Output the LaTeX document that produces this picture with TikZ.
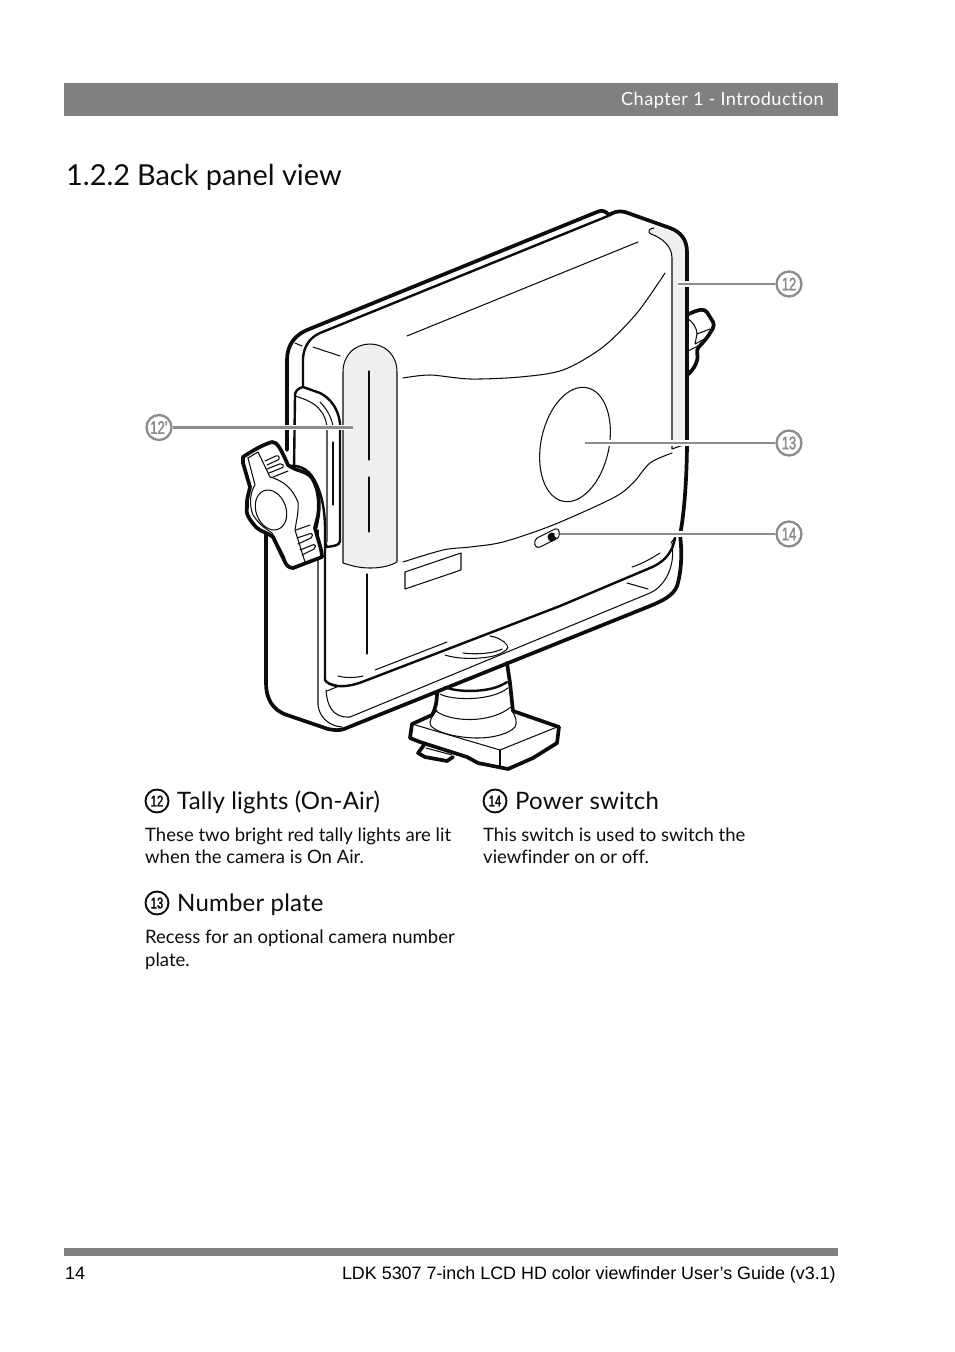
\documentclass[tikz,border=0pt]{standalone}
\usepackage{fontspec}
\setmainfont{Lato}[Ligatures=NoCommon]
\newfontfamily\spacedfont{Lato}[Ligatures=NoCommon,LetterSpace=0.8]
\newfontfamily\headfont{Lato}[Ligatures=NoCommon,LetterSpace=2.4]
\newfontfamily\footfont{Liberation Sans}
\newfontfamily\numfont{Liberation Sans}[FakeStretch=0.72,FakeBold=2]
\definecolor{bargray}{HTML}{808080}
\definecolor{tallyfill}{HTML}{EFEFEF}
\definecolor{leadgray}{HTML}{8C8C8C}
\definecolor{ink}{HTML}{0C0C0C}
\tikzset{
  thinline/.style={line width=1.05pt,line cap=round,line join=round,draw=ink},
  midline/.style={line width=2.4pt,line cap=round,line join=round,draw=ink},
  heavyline/.style={line width=3.7pt,line cap=round,line join=round,draw=ink},
  callout/.style={circle,draw=leadgray,line width=2.3pt,fill=white,minimum size=25pt,inner sep=0pt,text=leadgray,font=\numfont\fontsize{18}{18}\selectfont},
  legendmark/.style={circle,draw=ink,line width=1.9pt,minimum size=23pt,inner sep=0pt,text=ink,font=\numfont\fontsize{15.5}{16}\selectfont},
  halo/.style={draw=white,line width=5.5pt},
  lead/.style={draw=leadgray,line width=2.8pt},
  titletext/.style={anchor=base west,inner sep=0pt,font=\spacedfont\fontsize{24}{26}\selectfont,text=ink},
  bodytext/.style={anchor=base west,inner sep=0pt,font=\fontsize{18.5}{22}\selectfont,text=ink},
}
\begin{document}
\begin{tikzpicture}[x=1pt,y=-1pt]
\useasboundingbox (0,0) rectangle (954,1352);
\fill[white] (0,0) rectangle (954,1352);
% page furniture
\fill[bargray] (64,83) rectangle (838,116);
\fill[bargray] (64,1248) rectangle (838,1256);
\node[anchor=base east,inner sep=0pt,text=white,font=\headfont\fontsize{18.2}{20}\selectfont] (hdr) at (824,105) {Chapter 1 - Introduction};
\node[anchor=base west,inner sep=0pt,font=\fontsize{28.9}{30}\selectfont,text=ink] (ttl) at (66,185) {1.2.2\hspace{7pt}Back panel view};
\node[anchor=base west,inner sep=0pt,font=\footfont\fontsize{18}{20}\selectfont] (pg) at (65,1279) {14};
\node[anchor=base east,inner sep=0pt,font=\footfont\fontsize{17.9}{20}\selectfont] (guide) at (836,1279) {LDK 5307 7-inch LCD HD color viewfinder User’s Guide (v3.1)};

% right knob (behind)
\draw[heavyline,fill=white,rounded corners=4pt] (687,315) -- (695,311) -- (705,309) -- (715,325) -- (707,338) -- (696,350) .. controls (699,360) and (694,370) .. (687,375);
\draw[thinline] (687,318) .. controls (693,322) and (697,328) .. (697,334) -- (710,329);
\draw[thinline] (697,334) -- (695,344) -- (708,337);
\draw[thinline] (688,351) -- (700,345);

% tally strip right
\fill[tallyfill] (650,232) .. controls (650,228) and (654,227) .. (658,228) -- (672,232) .. controls (680,236) and (686,242) .. (686,250) -- (686,445) -- (672,449) -- (672,258) .. controls (672,246) and (662,238) .. (650,234) -- cycle;
\draw[thinline] (686,444) -- (672,449) -- (672,258) .. controls (672,246) and (662,238) .. (651,234) .. controls (647,232) and (649,228) .. (654,228);

% outer contour of the back frame
\draw[heavyline] (287,450) -- (287,360) .. controls (287,345) and (295,335) .. (307,330) -- (597,212) .. controls (603,209) and (606,212) .. (609,215) .. controls (612,213) and (618,210) .. (625,212) -- (670,228) .. controls (681,232) and (687,240) .. (687,252) -- (687,440) .. controls (687,470) and (685,510) .. (680,535) .. controls (682,550) and (682,570) .. (677,586) .. controls (673,596) and (662,601) .. (650,606) -- (344,729) .. controls (338,731) and (334,730) .. (328,729) -- (287,715) .. controls (272,710) and (266,698) .. (266,683) -- (266,525);
% body top edge
\draw[midline] (303,387) -- (303,358) .. controls (304,345) and (311,337) .. (320,333) -- (608,216);
% body left below knob
\draw[midline] (325,545) -- (325,680) .. controls (328,685) and (340,690) .. (362,682) -- (560,606) -- (650,568) .. controls (662,563) and (672,555) .. (675,538);
% frame thin lines
\draw[thinline] (318,540) -- (318,705) .. controls (319,716) and (328,726) .. (342,727);
\draw[thinline] (326,690) .. controls (327,705) and (332,718) .. (350,717) -- (650,593) .. controls (662,588) and (676,570) .. (672,543);
\draw[thinline] (326,682) -- (339,686);
\draw[thinline] (327,691) -- (339,686);
\draw[thinline] (671,543) -- (676,536);
\draw[thinline] (632,567) .. controls (642,564) and (652,558) .. (660,553);
\draw[thinline] (627,583) -- (648,589);
\draw[thinline] (338,676) .. controls (345,678) and (355,678) .. (363,676);
\draw[thinline] (375,670) -- (447,642);
\draw[thinline] (367,574) -- (367,654);
% body surface lines
\draw[thinline] (407,336) -- (638,242);
\draw[thinline] plot[smooth] coordinates {(403,378) (430,375) (470,379) (520,377) (563,370) (603,347) (637,313) (665,273)};
\draw[thinline] plot[smooth] coordinates {(403,562) (443,550) (470,547) (503,542) (553,525) (613,498) (633,483) (650,463) (672,453)};
\draw[thinline,rotate around={-12:(575,444.5)}] (575,444.5) ellipse (34pt and 58pt);
\draw[thinline] (405,572) -- (461,553) -- (461,570) -- (405,589) -- cycle;
\draw[thinline] (295,343) -- (302,346);
\draw[thinline] (313,347) -- (340,356);
% tally left
\draw[thinline,fill=tallyfill] (343,563) -- (343,372) .. controls (343,355) and (355,344) .. (370,344) .. controls (385,344) and (397,355) .. (397,372) -- (397,562) .. controls (388,567) and (378,568) .. (370,568) .. controls (360,568) and (352,566) .. (343,563) -- cycle;
\draw[thinline] (369,371) -- (369,460);
\draw[thinline] (369,477) -- (369,532);
% side bracket
\draw[midline,fill=white] (303,387) .. controls (298,388) and (294,392) .. (295,397) -- (294,470) -- (327,547) .. controls (332,546) and (340,546) .. (340,541) -- (340,423) .. controls (338,408) and (330,398) .. (320,393) -- cycle;
\draw[thinline] (295,396) .. controls (305,399) and (315,403) .. (320,410) .. controls (325,416) and (327,422) .. (327,430) -- (327,542);
\draw[thinline] (320,402) .. controls (326,408) and (331,416) .. (333,426);
\draw[thinline] (333,442) -- (333,505);
% washer
\fill[white] (290,466) .. controls (298,465) and (306,468) .. (312,476) .. controls (320,488) and (325,505) .. (325,530) -- (325,550) -- (300,550) -- cycle;
\draw[midline] (290,466) .. controls (298,465) and (306,468) .. (312,476) .. controls (320,488) and (325,505) .. (325,530) -- (325,550);
\draw[thinline] (317,485) .. controls (321,500) and (320,515) .. (317,528);
\draw[thinline] (318,530) -- (318,560);
% knob
\draw[heavyline,fill=white] (243,457) .. controls (252,451) and (262,445) .. (272,442) .. controls (277,442) and (280,447) .. (288,465) .. controls (297,472) and (306,470) .. (312,478) .. controls (320,490) and (320,510) .. (317,520) -- (315,528) .. controls (318,540) and (322,550) .. (322,557) -- (293,568) .. controls (288,568) and (286,564) .. (285,562) -- (273,537) .. controls (266,532) and (262,532) .. (257,528) .. controls (249,520) and (245,512) .. (247,507) .. controls (246,500) and (249,493) .. (250,487) -- (243,463) -- cycle;
\draw[thinline] (248,458) -- (258,452) -- (270,477) .. controls (285,481) and (293,490) .. (298,502) .. controls (299,512) and (296,522) .. (295,530) -- (305,562);
\draw[thinline] (248,458) -- (255,485) .. controls (250,492) and (249,505) .. (253,515) .. controls (260,526) and (268,530) .. (272,533) -- (285,558);
\draw[thinline,rotate around={20:(271,510)}] (271,510) ellipse (15pt and 20.5pt);
\draw[thinline,rounded corners=2pt] (265,461) -- (278,455) -- (280,459) -- (267,465);
\draw[thinline,rounded corners=2pt] (267,469) -- (282,463) -- (284,467) -- (269,473);
\draw[thinline] (273,477) -- (288,471);
\draw[thinline] (296,530) -- (310,525);
\draw[thinline,rounded corners=2pt] (297,538) -- (312,533) -- (313,537) -- (298,544);
\draw[thinline,rounded corners=2pt] (300,550) -- (315,544) -- (316,548) -- (302,555);
% underside recess
\draw[thinline] (445,655) .. controls (460,660) and (485,659) .. (497,655) .. controls (505,652) and (510,648) .. (507,645) .. controls (503,640) and (497,637) .. (490,636);
\draw[thinline] (463,653) .. controls (478,655) and (495,653) .. (502,649);
% column and foot
\draw[heavyline] (507,663) -- (510,683) -- (513,711) -- (559,727) -- (557,743) -- (533,758) -- (508,769) -- (478,763) -- (467,757) -- (420,742) -- (410,738) -- (412,724) -- (432,715) .. controls (436,708) and (437,700) .. (437,692);
\draw[heavyline] (424,745) -- (418,753) -- (425,757) -- (447,761) -- (453,757);
\draw[thinline] (426,748) -- (452,755);
\draw[midline] (445,687) .. controls (455,692) and (490,694) .. (507,682);
\draw[thinline] (440,694) .. controls (450,700) and (490,702) .. (508,688);
\draw[thinline] (436,711) .. controls (450,722) and (490,724) .. (511,707);
\draw[thinline] (437,710) .. controls (432,716) and (428,722) .. (431,726) .. controls (440,735) and (465,738) .. (477,738) .. controls (495,738) and (510,733) .. (515,727) .. controls (518,722) and (515,716) .. (512,710);
\draw[thinline] (412,724) -- (500,750) -- (557,727);
\draw[thinline] (500,750) -- (500,767);
\draw[draw=white,line width=1pt] (507,765) -- (530,756);

% callouts
\node[callout] (n12) at (789,284) {12};
\node[callout] (n13) at (789,443) {13};
\node[callout] (n14) at (789,534) {14};
\node[callout] (n12p) at (159,427.5) {12’};
\coordinate (t12) at (678,284);
\coordinate (t13) at (585,443);
\coordinate (t14) at (555,534);
\coordinate (t12p) at (353,427.5);
\draw[halo] (n12p.east) -- (t12p);
\draw[lead] (n12p.east) -- (t12p);
\draw[halo] (n12.west) -- (t12);
\draw[lead] (n12.west) -- (t12);
\draw[halo] (n13.west) -- (t13);
\draw[lead] (n13.west) -- (t13);
\draw[halo] (n14.west) -- (t14);
\draw[lead] (n14.west) -- (t14);
% power switch
\draw[thinline] (537,538) -- (555,529) .. controls (560,527) and (560,535) .. (558,538) -- (540,547) .. controls (534,549) and (533,541) .. (537,538) -- cycle;
\fill[ink] (552,537) circle (4.5pt);
\fill[white] (556.5,535) circle (2.2pt);

% legend
\node[legendmark] (m12) at (157,801) {12};
\node[titletext] (l12) at (177,809) {Tally lights (On-Air)};
\node[bodytext] (b12a) at (145,841) {These two bright red tally lights are lit};
\node[bodytext] (b12b) at (145,863) {when the camera is On Air.};
\node[legendmark] (m13) at (157,903) {13};
\node[titletext] (l13) at (177,911) {Number plate};
\node[bodytext] (b13a) at (145,943) {Recess for an optional camera number};
\node[bodytext] (b13b) at (145,966) {plate.};
\node[legendmark] (m14) at (495,801) {14};
\node[titletext] (l14) at (515,809) {Power switch};
\node[bodytext] (b14a) at (483,841) {This switch is used to switch the};
\node[bodytext] (b14b) at (483,863) {viewfinder on or off.};
\end{tikzpicture}
\end{document}
